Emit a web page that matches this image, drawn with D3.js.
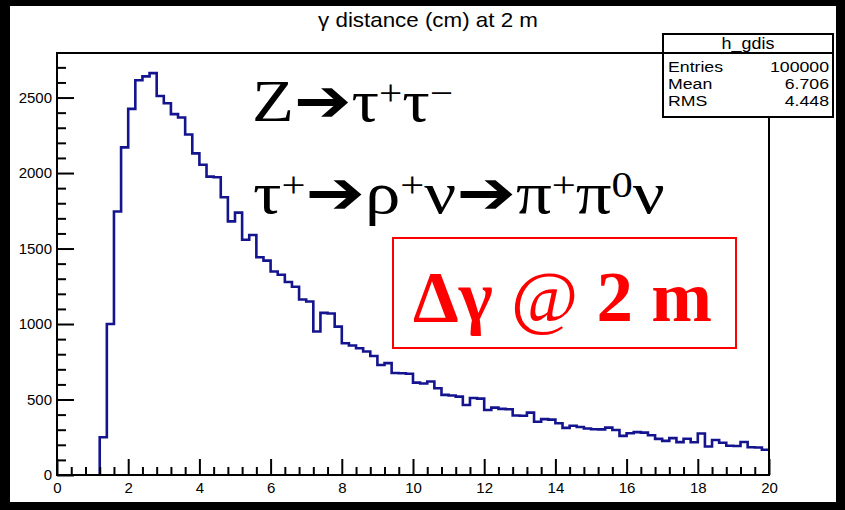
<!DOCTYPE html>
<html>
<head>
<meta charset="utf-8">
<script src="https://cdn.jsdelivr.net/npm/d3@7"></script>
<style>
  html, body { margin: 0; padding: 0; background: #000; }
  svg { display: block; }
</style>
</head>
<body>
<svg id="chart" width="845" height="510"></svg>
<script>
// ---- histogram h_gdis: photon separation at 2 m ----
const histTitle = "γ distance (cm) at 2 m";
const histName = "h_gdis";
const statLabels = ["Entries", "Mean", "RMS"];
const statValues = ["100000", "6.706", "4.448"];

const xRange = [0, 20];
const binWidth = 0.2;
// bin contents, 100 bins of 0.2 cm from 0 to 20
const counts = [
  0, 0, 0, 0, 0, 0, 250, 1000, 1745, 2170,
  2425, 2615, 2640, 2662, 2510, 2462, 2390, 2368, 2255, 2130,
  2055, 1976, 1972, 1840, 1680, 1738, 1558, 1590, 1442, 1420,
  1348, 1326, 1278, 1247, 1162, 1149, 950, 1074, 1070, 983,
  873, 858, 840, 818, 788, 729, 741, 676, 674, 671,
  612, 606, 619, 575, 531, 527, 519, 464, 510, 506,
  431, 446, 438, 435, 394, 392, 413, 353, 370, 367,
  343, 312, 326, 318, 308, 303, 302, 314, 298, 259,
  277, 284, 281, 263, 239, 226, 244, 218, 240, 217,
  275, 189, 232, 214, 194, 192, 219, 184, 182, 167
];

const xTicks = [0, 2, 4, 6, 8, 10, 12, 14, 16, 18, 20];
const xMinorStep = 0.4;
const yTicks = [0, 500, 1000, 1500, 2000, 2500];
const yMinorStep = 100;

const decayLine1 = [["Z", "n"], ["➔", "arrow"], ["τ", "n"], ["+", "sup"], ["τ", "n"], ["−", "sup"]];
const decayLine2 = [["τ", "n"], ["+", "sup"], ["➔", "arrow"], ["ρ", "n"], ["+", "sup"], ["ν", "n"],
                    ["➔", "arrow"], ["π", "n"], ["+", "sup"], ["π", "n"], ["0", "sup"], ["ν", "n"]];
const boxLabel = [["Δγ ", "b"], ["@", "r"], [" 2 m", "b"]];

// ---- layout ----
const W = 845, H = 510;
const svg = d3.select("#chart");
const sans = "'Liberation Sans', Arial, Helvetica, sans-serif";
const serif = "'Liberation Serif', 'Times New Roman', serif";

svg.append("rect").attr("width", W).attr("height", H).attr("fill", "#000");
svg.append("rect").attr("x", 10).attr("y", 6).attr("width", 826).attr("height", 496).attr("fill", "#fff");

const frame = { left: 57, right: 769, top: 53, bottom: 475 };
const x = d3.scaleLinear().domain(xRange).range([frame.left, frame.right]);
const yMax = d3.max(counts) * 1.05;
const y = d3.scaleLinear().domain([0, yMax]).range([frame.bottom, frame.top]);

// stretch a text element horizontally about its anchor by factor k
function stretch(sel, x0, k) {
  sel.attr("transform", `translate(${x0},0) scale(${k},1) translate(${-x0},0)`);
  return sel;
}
// stretch a text element horizontally so it spans `width`
function fitWidth(sel, x0, width) {
  return stretch(sel, x0, width / sel.node().getComputedTextLength());
}

// title
const title = svg.append("text")
  .attr("x", 428).attr("y", 27)
  .attr("text-anchor", "middle")
  .attr("font-family", sans).attr("font-size", 20)
  .attr("fill", "#000")
  .text(histTitle);
fitWidth(title, 428, 220);

// histogram outline (step line)
const firstBin = counts.findIndex(c => c > 0);
const pts = [[xRange[0] + firstBin * binWidth, 0]];
counts.forEach((c, i) => {
  if (i < firstBin) return;
  const x0 = xRange[0] + i * binWidth;
  pts.push([x0, c], [x0 + binWidth, c]);
});
svg.append("path")
  .attr("d", d3.line().x(d => x(d[0])).y(d => y(d[1]))(pts))
  .attr("fill", "none")
  .attr("stroke", "#14148f")
  .attr("stroke-width", 2.6)
  .attr("stroke-linejoin", "miter");

// frame
svg.append("rect")
  .attr("x", frame.left).attr("y", frame.top)
  .attr("width", frame.right - frame.left).attr("height", frame.bottom - frame.top)
  .attr("fill", "none").attr("stroke", "#000").attr("stroke-width", 2);

// axes: major ticks with labels, minor ticks without
function styleAxis(g) {
  g.select(".domain").remove();
  g.selectAll(".tick line").attr("stroke", "#000").attr("stroke-width", 2);
  g.selectAll(".tick text").attr("fill", "#000").attr("font-family", sans).attr("font-size", 15);
}
const yMinor = d3.range(yMinorStep, yMax, yMinorStep).filter(v => !yTicks.includes(v));
svg.append("g").attr("transform", `translate(${frame.left},0)`)
  .call(d3.axisLeft(y).tickValues(yMinor).tickSizeInner(-9).tickSizeOuter(0).tickFormat(""))
  .call(styleAxis);
svg.append("g").attr("transform", `translate(${frame.left},0)`)
  .call(d3.axisLeft(y).tickValues(yTicks).tickSizeInner(-17).tickSizeOuter(0).tickPadding(5).tickFormat(d3.format("d")))
  .call(styleAxis)
  .call(g => g.selectAll(".tick text").attr("dy", "0.32em"));

const xMinor = d3.range(xRange[0], xRange[1] + 1e-9, xMinorStep)
  .filter(v => !xTicks.some(t => Math.abs(t - v) < 1e-6));
svg.append("g").attr("transform", `translate(0,${frame.bottom})`)
  .call(d3.axisBottom(x).tickValues(xMinor).tickSizeInner(-8).tickSizeOuter(0).tickFormat(""))
  .call(styleAxis);
svg.append("g").attr("transform", `translate(0,${frame.bottom})`)
  .call(d3.axisBottom(x).tickValues(xTicks).tickSizeInner(-16).tickSizeOuter(0).tickPadding(7).tickFormat(d3.format("d")))
  .call(styleAxis);

// statistics box
const sb = { x: 663, y: 34, w: 170, h: 83, head: 19 };
const statFont = 15, statStretch = 1.18;
const stats = svg.append("g");
stats.append("rect").attr("x", sb.x).attr("y", sb.y).attr("width", sb.w).attr("height", sb.h)
  .attr("fill", "#fff").attr("stroke", "#000").attr("stroke-width", 2);
stats.append("line").attr("x1", sb.x).attr("x2", sb.x + sb.w)
  .attr("y1", sb.y + sb.head).attr("y2", sb.y + sb.head)
  .attr("stroke", "#000").attr("stroke-width", 2);
stretch(stats.append("text").attr("x", sb.x + sb.w / 2).attr("y", sb.y + 15)
  .attr("text-anchor", "middle").attr("font-family", sans).attr("font-size", 16)
  .text(histName), sb.x + sb.w / 2, 1.12);
statLabels.forEach((lab, i) => {
  const yy = sb.y + sb.head + 19 + i * 17;
  stretch(stats.append("text").attr("x", sb.x + 5).attr("y", yy)
    .attr("font-family", sans).attr("font-size", statFont).text(lab), sb.x + 5, statStretch);
  stretch(stats.append("text").attr("x", sb.x + sb.w - 4).attr("y", yy)
    .attr("text-anchor", "end").attr("font-family", sans).attr("font-size", statFont).text(statValues[i]),
    sb.x + sb.w - 4, statStretch);
});

// decay-chain annotation
function richText(parts, x0, y0, size, color) {
  const t = svg.append("text").attr("x", x0).attr("y", y0)
    .attr("font-family", serif).attr("font-size", size).attr("fill", color);
  let shifted = false;
  parts.forEach(([s, kind]) => {
    const sp = t.append("tspan").text(s);
    if (kind === "sup") {
      sp.attr("font-size", size * 0.6).attr("dy", shifted ? 0 : -size * 0.26);
      shifted = true;
    } else {
      if (shifted) { sp.attr("dy", size * 0.26); shifted = false; }
      if (kind === "arrow") sp.attr("font-family", "'DejaVu Sans', sans-serif").attr("font-weight", "bold").attr("font-size", size * 1.0);
      if (kind === "b") sp.attr("font-weight", "bold");
    }
  });
  return t;
}
fitWidth(richText(decayLine1, 252, 121, 60, "#000"), 252, 201);
fitWidth(richText(decayLine2, 253, 213, 60, "#000"), 253, 412);

// highlighted label
svg.append("rect").attr("x", 393).attr("y", 238).attr("width", 343).attr("height", 110)
  .attr("fill", "none").attr("stroke", "#ff0000").attr("stroke-width", 2);
fitWidth(richText(boxLabel, 413, 321, 72, "#ff0000"), 413, 299);
</script>
</body>
</html>
